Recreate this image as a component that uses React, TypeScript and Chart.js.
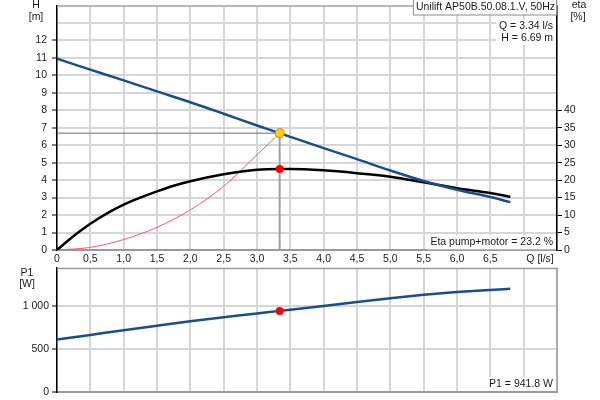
import { useEffect, useRef } from 'react';
import { Chart, registerables } from 'chart.js';

Chart.register(...registerables);

// ---- data ----
const qHead = [0, 0.5, 1, 1.5, 2, 2.5, 3, 3.34, 3.5, 4, 4.5, 5, 5.5, 6, 6.5, 6.8];
const headM = [10.95, 10.33, 9.71, 9.08, 8.46, 7.8, 7.13, 6.69, 6.48, 5.83, 5.2, 4.55, 3.95, 3.45, 3.03, 2.74];

const qEta = [0, 0.25, 0.5, 0.75, 1, 1.25, 1.5, 1.75, 2, 2.5, 3, 3.34, 3.5, 4, 4.5, 5, 5.5, 6, 6.5, 6.8];
const etaPct = [0, 4.0, 7.5, 10.5, 13.0, 15.0, 16.8, 18.4, 19.7, 21.7, 23.0, 23.2, 23.2, 22.8, 22.0, 21.0, 19.4, 17.7, 16.3, 15.2];

const qSys = [0, 0.5, 1, 1.5, 2, 2.5, 3, 3.34];
const headSys = [0, 0.15, 0.6, 1.3, 2.3, 3.65, 5.45, 6.69];

const qP1 = [0, 0.5, 1, 1.5, 2, 2.5, 3, 3.34, 3.5, 4, 4.5, 5, 5.5, 6, 6.5, 6.8];
const p1W = [609, 663, 717, 770, 822, 868, 911, 942, 955, 998, 1045, 1090, 1128, 1160, 1185, 1198];

const p1Ticks = [0, 500, 1000];

const opQ = 3.34;
const opH = 6.69;
const opEta = 23.2;
const opP1 = 941.8;

const pumpName = 'Unilift AP50B.50.08.1.V, 50Hz';
const qText = 'Q = 3.34 l/s';
const hText = 'H = 6.69 m';
const etaText = 'Eta pump+motor = 23.2 %';
const p1Text = 'P1 = 941.8 W';

const FONT_FAMILY = '"Liberation Sans", Arial, sans-serif';
const FONT_SIZE = 10.5;
const TXT = '#1a1a1a';
const BLUE = '#174e8c';
const GRID = '#d6d6d6';
const FRAME = '#9a9a9a';

const pts = (xs: number[], ys: number[]) => xs.map((x, i) => ({ x, y: ys[i] }));

const font = `${FONT_SIZE}px ${FONT_FAMILY}`;

function boxText(ctx: CanvasRenderingContext2D, text: string, right: number, cy: number, bg: boolean) {
  ctx.font = font;
  const w = ctx.measureText(text).width;
  if (bg) {
    ctx.fillStyle = '#ffffff';
    ctx.fillRect(right - w - 3, cy - 7, w + 6, 14);
  }
  ctx.fillStyle = TXT;
  ctx.textAlign = 'right';
  ctx.textBaseline = 'middle';
  ctx.fillText(text, right, cy);
}

const topDeco = {
  id: 'topDeco',
  afterDraw(chart: any) {
    const { ctx, chartArea: a } = chart;
    ctx.save();
    ctx.strokeStyle = FRAME;
    ctx.lineWidth = 1;
    ctx.beginPath();
    ctx.moveTo(a.left, a.top + 0.5);
    ctx.lineTo(a.right, a.top + 0.5);
    ctx.stroke();

    ctx.font = font;
    ctx.fillStyle = TXT;
    ctx.textAlign = 'center';
    ctx.textBaseline = 'middle';
    ctx.fillText('H', 36, 5);
    ctx.fillText('[m]', 36, 17);
    ctx.fillText('eta', 579, 5);
    ctx.fillText('[%]', 578, 17);
    ctx.fillText('Q [l/s]', 540, 259.5);

    const w = ctx.measureText(pumpName).width;
    const bx = a.right - w - 5;
    ctx.fillStyle = '#ffffff';
    ctx.fillRect(bx, 0, a.right - bx, 15);
    ctx.strokeStyle = '#8a8a8a';
    ctx.strokeRect(bx + 0.5, -0.5, a.right - bx - 1, 15.5);
    ctx.fillStyle = TXT;
    ctx.textAlign = 'left';
    ctx.fillText(pumpName, bx + 3, 7.5);

    const qw = Math.max(ctx.measureText(qText).width, ctx.measureText(hText).width);
    ctx.fillStyle = '#ffffff';
    ctx.fillRect(a.right - 4 - qw - 3, 19, qw + 6, 26);
    boxText(ctx, qText, a.right - 4, 26, false);
    boxText(ctx, hText, a.right - 4, 38.5, false);

    boxText(ctx, etaText, a.right - 4, 242.3, true);
    ctx.restore();
  },
};

const botDeco = {
  id: 'botDeco',
  afterDraw(chart: any) {
    const { ctx, chartArea: a } = chart;
    ctx.save();
    ctx.strokeStyle = FRAME;
    ctx.lineWidth = 1.5;
    ctx.beginPath();
    ctx.moveTo(a.left, a.top + 0.5);
    ctx.lineTo(a.right, a.top + 0.5);
    ctx.lineTo(a.right, a.bottom);
    ctx.stroke();

    ctx.font = font;
    ctx.fillStyle = TXT;
    ctx.textAlign = 'center';
    ctx.textBaseline = 'middle';
    ctx.fillText('P1', 27, 272.7 - 262);
    ctx.fillText('[W]', 27, 284.5 - 262);

    boxText(ctx, p1Text, a.right - 4, 384 - 262, true);
    ctx.restore();
  },
};

const tickFont = { family: FONT_FAMILY, size: FONT_SIZE };

function fmtQ(v: any) {
  const n = Number(v);
  if (n >= 6.99) return '';
  if (n === 0) return '0';
  return n.toFixed(1).replace('.', ',');
}

function fmtW(v: any) {
  const n = Math.round(Number(v));
  return String(n).replace(/\B(?=(\d{3})+(?!\d))/g, ' ');
}

export default function App() {
  const topRef = useRef<HTMLCanvasElement>(null);
  const botRef = useRef<HTMLCanvasElement>(null);

  useEffect(() => {
    const top = new Chart(topRef.current as HTMLCanvasElement, {
      type: 'line',
      data: {
        datasets: [
          {
            data: [{ x: opQ, y: opH }],
            yAxisID: 'y',
            showLine: false,
            pointRadius: 4.5,
            pointBackgroundColor: '#ffd400',
            pointBorderColor: '#ff6a1a',
            pointBorderWidth: 1,
            order: 0,
          },
          {
            data: [{ x: opQ, y: opEta }],
            yAxisID: 'y2',
            showLine: false,
            pointRadius: 4,
            pointBackgroundColor: '#ff0000',
            pointBorderColor: '#ff0000',
            pointBorderWidth: 0,
            order: 0,
          },
          {
            data: pts(qHead, headM),
            yAxisID: 'y',
            borderColor: BLUE,
            borderWidth: 2.5,
            pointRadius: 0,
            cubicInterpolationMode: 'monotone',
            order: 2,
          },
          {
            data: pts(qEta, etaPct),
            yAxisID: 'y2',
            borderColor: '#000000',
            borderWidth: 2.5,
            pointRadius: 0,
            cubicInterpolationMode: 'monotone',
            order: 3,
          },
          {
            data: pts(qSys, headSys),
            yAxisID: 'y',
            borderColor: '#ff5a5a',
            borderWidth: 1,
            pointRadius: 0,
            cubicInterpolationMode: 'monotone',
            order: 4,
          },
          {
            data: [{ x: 0, y: opH }, { x: opQ, y: opH }],
            yAxisID: 'y',
            borderColor: '#6e6e6e',
            borderWidth: 1,
            pointRadius: 0,
            order: 5,
          },
          {
            data: [{ x: opQ, y: 0 }, { x: opQ, y: opH }],
            yAxisID: 'y',
            borderColor: '#a0a0a0',
            borderWidth: 2,
            pointRadius: 0,
            order: 5,
          },
        ],
      },
      options: {
        animation: false,
        responsive: false,
        events: [],
        layout: { padding: 0 },
        plugins: { legend: { display: false }, tooltip: { enabled: false } },
        scales: {
          x: {
            type: 'linear',
            min: 0,
            max: 7.5,
            position: 'bottom',
            ticks: { stepSize: 0.5, autoSkip: false, maxRotation: 0, padding: 3, callback: fmtQ, font: tickFont, color: TXT },
            grid: { color: GRID, lineWidth: 2, drawTicks: false },
            border: { color: FRAME, width: 2 },
            afterFit: (s: any) => {
              s.height = 18;
              s.paddingLeft = 0;
              s.paddingRight = 0;
            },
          },
          y: {
            type: 'linear',
            min: 0,
            max: 14,
            position: 'left',
            ticks: {
              stepSize: 1,
              autoSkip: false,
              padding: 5,
              callback: (v: any) => (Number(v) <= 12 ? String(v) : ''),
              font: tickFont,
              color: TXT,
            },
            grid: {
              color: GRID,
              lineWidth: 2,
              tickLength: 5,
              tickWidth: 1,
              tickColor: (c: any) => (c.tick && c.tick.value <= 12 ? '#000000' : 'rgba(0,0,0,0)'),
            },
            border: { color: '#000000', width: 1.5 },
            afterFit: (s: any) => {
              s.width = 57;
              s.paddingTop = 0;
              s.paddingBottom = 0;
            },
          },
          y2: {
            type: 'linear',
            min: 0,
            max: 70,
            position: 'right',
            ticks: {
              stepSize: 5,
              autoSkip: false,
              padding: 2,
              callback: (v: any) => (Number(v) <= 40 ? String(v) : ''),
              font: tickFont,
              color: TXT,
            },
            grid: {
              drawOnChartArea: false,
              tickLength: 5,
              tickWidth: 1,
              tickColor: (c: any) => (c.tick && c.tick.value <= 40 ? '#000000' : 'rgba(0,0,0,0)'),
            },
            border: { color: '#000000', width: 1.5 },
            afterFit: (s: any) => {
              s.width = 43;
              s.paddingTop = 0;
              s.paddingBottom = 0;
            },
          },
        },
      } as any,
      plugins: [topDeco],
    });

    const bot = new Chart(botRef.current as HTMLCanvasElement, {
      type: 'line',
      data: {
        datasets: [
          {
            data: [{ x: opQ, y: opP1 }],
            showLine: false,
            pointRadius: 4,
            pointBackgroundColor: '#ff0000',
            pointBorderColor: '#ff0000',
            pointBorderWidth: 0,
            order: 0,
          },
          {
            data: pts(qP1, p1W),
            borderColor: BLUE,
            borderWidth: 2.5,
            pointRadius: 0,
            cubicInterpolationMode: 'monotone',
            order: 1,
          },
        ],
      },
      options: {
        animation: false,
        responsive: false,
        events: [],
        layout: { padding: { top: 6, right: 43, left: 0, bottom: 0 } },
        plugins: { legend: { display: false }, tooltip: { enabled: false } },
        scales: {
          x: {
            type: 'linear',
            min: 0,
            max: 7.5,
            ticks: { display: false, stepSize: 0.5, autoSkip: false },
            grid: { color: GRID, lineWidth: 2, drawTicks: false },
            border: { color: FRAME, width: 2 },
            afterFit: (s: any) => {
              s.height = 8;
              s.paddingLeft = 0;
              s.paddingRight = 0;
            },
          },
          y: {
            type: 'linear',
            min: 0,
            max: 1440,
            afterBuildTicks: (s: any) => {
              s.ticks = p1Ticks.map((v) => ({ value: v }));
            },
            ticks: { autoSkip: false, padding: 3, callback: fmtW, font: tickFont, color: TXT },
            grid: { color: GRID, lineWidth: 2, tickLength: 5, tickWidth: 1, tickColor: '#000000' },
            border: { color: '#000000', width: 1.5 },
            afterFit: (s: any) => {
              s.width = 57;
              s.paddingTop = 0;
              s.paddingBottom = 0;
            },
          },
        },
      } as any,
      plugins: [botDeco],
    });

    return () => {
      top.destroy();
      bot.destroy();
    };
  }, []);

  return (
    <div style={{ position: 'fixed', left: 0, top: 0, width: 600, height: 400, background: '#ffffff' }}>
      <canvas ref={topRef} width={600} height={268} style={{ position: 'absolute', left: 0, top: 0 }} />
      <canvas ref={botRef} width={600} height={138} style={{ position: 'absolute', left: 0, top: 262 }} />
    </div>
  );
}
